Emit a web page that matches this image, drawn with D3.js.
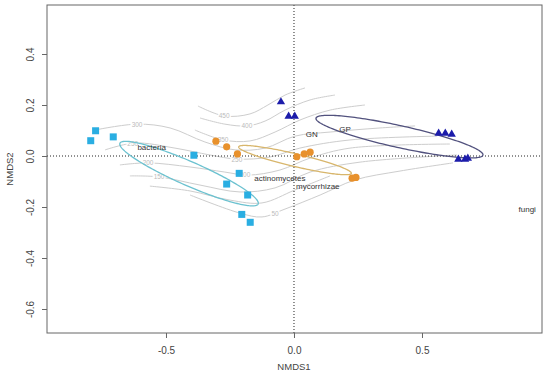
<!DOCTYPE html>
<html>
<head>
<meta charset="utf-8">
<script src="https://cdn.jsdelivr.net/npm/d3@7"></script>
<style>
  body { margin: 0; background: #fff; }
  text { font-family: "Liberation Sans", Arial, sans-serif; }
</style>
</head>
<body>
<script>
// site scores (NMDS1, NMDS2)
var bacteriaX = [-0.775, -0.794, -0.706, -0.391, -0.214, -0.263, -0.181, -0.204, -0.171];
var bacteriaY = [0.099, 0.060, 0.075, 0.003, -0.068, -0.110, -0.153, -0.229, -0.260];
var mycoX = [-0.305, -0.263, -0.221, 0.011, 0.040, 0.063, 0.227, 0.242];
var mycoY = [0.058, 0.036, 0.008, -0.003, 0.008, 0.015, -0.087, -0.084];
var fungiX = [-0.051, -0.021, 0.003, 0.565, 0.591, 0.616, 0.642, 0.668, 0.679];
var fungiY = [0.212, 0.156, 0.156, 0.089, 0.089, 0.085, -0.013, -0.013, -0.009];

// ellipses: centre x, centre y, semi axes, angle (deg)
var ellCx = [-0.410, 0.004, 0.412];
var ellCy = [-0.069, -0.016, 0.076];
var ellA = [0.295, 0.226, 0.334];
var ellB = [0.047, 0.025, 0.043];
var ellAngle = [-23.8, -13.3, -12.5];

// species labels
var speciesNames = ["bacteria", "GN", "GP", "actinomycetes", "mycorrhizae", "fungi"];
var speciesX = [-0.556, 0.069, 0.199, -0.055, 0.093, 0.911];
var speciesY = [0.035, 0.085, 0.102, -0.088, -0.120, -0.208];

// ordisurf contours
var contourLevels = [450, 400, 350, 300, 250, 200, 150, 100, 50];
var contourPoints = [
  [[-0.375,0.196],[-0.273,0.157],[-0.172,0.165],[-0.102,0.200],[-0.035,0.239],[0.043,0.267]],
  [[-0.367,0.149],[-0.270,0.125],[-0.184,0.118],[-0.113,0.137],[-0.035,0.180],[0.063,0.220],[0.160,0.239]],
  [[-0.387,0.102],[-0.277,0.063],[-0.172,0.059],[-0.074,0.094],[0.023,0.141],[0.141,0.180],[0.277,0.200]],
  [[-0.777,0.102],[-0.613,0.125],[-0.484,0.110],[-0.348,0.055],[-0.230,0.024],[-0.113,0.031],[0.004,0.078],[0.141,0.094],[0.336,0.110],[0.473,0.118]],
  [[-0.738,0.024],[-0.621,0.051],[-0.465,0.031],[-0.328,0.004],[-0.223,-0.012],[-0.094,-0.004],[0.023,0.031],[0.219,0.063],[0.559,0.078]],
  [[-0.680,-0.035],[-0.570,-0.027],[-0.406,-0.043],[-0.270,-0.063],[-0.180,-0.075],[-0.055,-0.055],[0.063,-0.008],[0.219,0.031],[0.609,0.047]],
  [[-0.641,-0.078],[-0.527,-0.082],[-0.367,-0.114],[-0.211,-0.141],[-0.074,-0.125],[0.063,-0.063],[0.258,-0.024],[0.637,0.004]],
  [[-0.563,-0.118],[-0.406,-0.137],[-0.250,-0.173],[-0.125,-0.184],[0.004,-0.133],[0.141,-0.078]],
  [[-0.406,-0.153],[-0.211,-0.224],[-0.125,-0.239],[-0.035,-0.208],[0.102,-0.153],[0.238,-0.094],[0.414,-0.059],[0.621,-0.027]]
];
var contourLabelText = ["450", "400", "350", "300", "250", "250", "200", "200", "150", "50"];
var contourLabelX = [-0.273, -0.184, -0.277, -0.613, -0.630, -0.223, -0.570, -0.192, -0.527, -0.074];
var contourLabelY = [0.157, 0.118, 0.063, 0.125, 0.049, -0.012, -0.027, -0.072, -0.082, -0.224];

var xTicks = [-0.5, 0.0, 0.5];
var yTicks = [-0.6, -0.4, -0.2, 0.0, 0.2, 0.4];

var width = 550, height = 382;
var margin = {top: 5, right: 8, bottom: 49, left: 47};

var svg = d3.select("body").append("svg")
    .attr("width", width)
    .attr("height", height);

var x = d3.scaleLinear()
    .domain([-0.9648, 0.96875])
    .range([margin.left, width - margin.right]);

var y = d3.scaleLinear()
    .domain([-0.6941, 0.5922])
    .range([height - margin.bottom, margin.top]);

var fmt = function(d) { return d.toFixed(1); };

var xAxis = d3.axisBottom(x).tickValues(xTicks).tickSize(5).tickPadding(9).tickFormat(fmt);
var yAxis = d3.axisLeft(y).tickValues(yTicks).tickSize(5).tickPadding(3).tickFormat(fmt);

var gx = svg.append("g")
    .attr("transform", "translate(0," + (height - margin.bottom) + ")")
    .call(xAxis);
gx.select(".domain").remove();

var gy = svg.append("g")
    .attr("transform", "translate(" + margin.left + ",0)")
    .call(yAxis);
gy.select(".domain").remove();
gy.selectAll(".tick text")
    .attr("text-anchor", "middle")
    .attr("transform", "rotate(-90)")
    .attr("x", 0)
    .attr("dy", 0)
    .attr("y", -13);

svg.selectAll(".tick line").attr("stroke", "#666");
svg.selectAll(".tick text").attr("fill", "#444").style("font-size", "10px");

// contour lines
var line = d3.line()
    .curve(d3.curveCatmullRom)
    .x(function(d) { return x(d[0]); })
    .y(function(d) { return y(d[1]); });

svg.append("g").selectAll("path")
    .data(contourPoints)
  .enter().append("path")
    .attr("d", line)
    .attr("fill", "none")
    .attr("stroke", "#cdcdcd")
    .attr("stroke-width", 1);

svg.append("g").selectAll("text")
    .data(contourLabelText)
  .enter().append("text")
    .attr("x", function(d, i) { return x(contourLabelX[i]); })
    .attr("y", function(d, i) { return y(contourLabelY[i]); })
    .attr("text-anchor", "middle")
    .attr("dominant-baseline", "central")
    .attr("fill", "#bbbbbb")
    .attr("stroke", "#fff")
    .attr("stroke-width", 3)
    .attr("paint-order", "stroke")
    .style("font-size", "6.5px")
    .text(function(d) { return d; });

// origin lines
svg.append("line")
    .attr("x1", x(0)).attr("x2", x(0))
    .attr("y1", y.range()[0]).attr("y2", y.range()[1])
    .attr("stroke", "#222").attr("stroke-dasharray", "1,2");
svg.append("line")
    .attr("x1", x.range()[0]).attr("x2", x.range()[1])
    .attr("y1", y(0)).attr("y2", y(0))
    .attr("stroke", "#222").attr("stroke-dasharray", "1,2");

// ellipses
var ellColors = ["#6cc2d0", "#d8b66c", "#52527e"];
var ellipse = function(i) {
  var t = d3.range(0, 2 * Math.PI + 0.01, Math.PI / 90);
  var th = ellAngle[i] * Math.PI / 180;
  return t.map(function(a) {
    var u = ellA[i] * Math.cos(a), v = ellB[i] * Math.sin(a);
    return [ellCx[i] + u * Math.cos(th) - v * Math.sin(th),
            ellCy[i] + u * Math.sin(th) + v * Math.cos(th)];
  });
};
svg.append("g").selectAll("path")
    .data(ellCx)
  .enter().append("path")
    .attr("d", function(d, i) { return d3.line().x(function(p) { return x(p[0]); }).y(function(p) { return y(p[1]); })(ellipse(i)); })
    .attr("fill", "none")
    .attr("stroke", function(d, i) { return ellColors[i]; })
    .attr("stroke-width", 1.3);

// points
svg.append("g").selectAll("rect")
    .data(bacteriaX)
  .enter().append("rect")
    .attr("x", function(d) { return x(d) - 3.5; })
    .attr("y", function(d, i) { return y(bacteriaY[i]) - 3.5; })
    .attr("width", 7).attr("height", 7)
    .attr("fill", "#2aaee2");

svg.append("g").selectAll("circle")
    .data(mycoX)
  .enter().append("circle")
    .attr("cx", function(d) { return x(d); })
    .attr("cy", function(d, i) { return y(mycoY[i]); })
    .attr("r", 3.6)
    .attr("fill", "#e8912c");

var tri = d3.symbol().type(d3.symbolTriangle).size(30);
svg.append("g").selectAll("path")
    .data(fungiX)
  .enter().append("path")
    .attr("d", tri)
    .attr("transform", function(d, i) { return "translate(" + x(d) + "," + y(fungiY[i]) + ")"; })
    .attr("fill", "#1c1caa");

// species names
svg.append("g").selectAll("text")
    .data(speciesNames)
  .enter().append("text")
    .attr("x", function(d, i) { return x(speciesX[i]); })
    .attr("y", function(d, i) { return y(speciesY[i]); })
    .attr("text-anchor", "middle")
    .attr("dominant-baseline", "central")
    .attr("fill", "#333")
    .style("font-size", "8px")
    .text(function(d) { return d; });

// box
svg.append("rect")
    .attr("x", x.range()[0]).attr("y", y.range()[1])
    .attr("width", x.range()[1] - x.range()[0])
    .attr("height", y.range()[0] - y.range()[1])
    .attr("fill", "none")
    .attr("stroke", "#666");

svg.append("text")
    .attr("x", x(0)).attr("y", 370)
    .attr("text-anchor", "middle")
    .attr("fill", "#444")
    .style("font-size", "9.5px")
    .text("NMDS1");

svg.append("text")
    .attr("transform", "translate(13," + ((y.range()[0] + y.range()[1]) / 2) + ") rotate(-90)")
    .attr("text-anchor", "middle")
    .attr("fill", "#444")
    .style("font-size", "9.5px")
    .text("NMDS2");
</script>
</body>
</html>
